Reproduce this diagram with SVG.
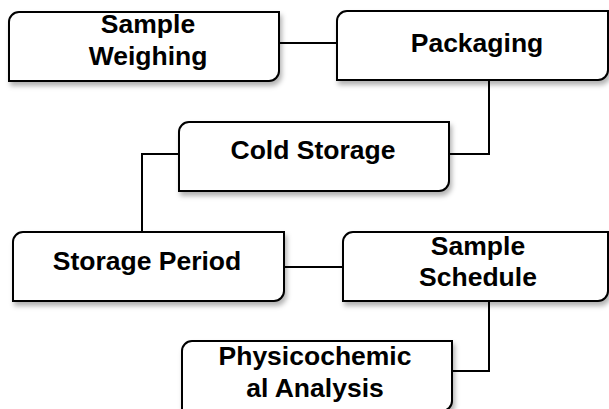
<svg xmlns="http://www.w3.org/2000/svg" width="609" height="409" viewBox="0 0 609 409">
<style>
.box{fill:#fff;stroke:#000;stroke-width:2;filter:url(#sh)}
.t{font-family:"Liberation Sans",Arial,sans-serif;font-weight:bold;font-size:26.5px;fill:#000;text-anchor:middle}
.c{fill:none;stroke:#000;stroke-width:2}
</style>
<defs>
<filter id="sh" x="-10%" y="-20%" width="130%" height="150%">
<feDropShadow dx="2" dy="4" stdDeviation="2.5" flood-color="#000" flood-opacity="0.3"/>
</filter>
</defs>
<g id="connectors">
<path class="c" d="M279,43 H337"/>
<path class="c" d="M489,80 V154 H449"/>
<path class="c" d="M179,154 H142 V232"/>
<path class="c" d="M284,267 H343"/>
<path class="c" d="M489,301 V371 H452"/>
</g>
<g id="n1">
<path class="box" d="M9,22 A10,10 0 0 1 19,12 H279 V71 A10,10 0 0 1 269,81 H9 Z"/>
<text class="t" x="148" y="33">Sample</text>
<text class="t" x="148" y="65">Weighing</text>
</g>
<g id="n2">
<path class="box" d="M337,21 A10,10 0 0 1 347,11 H608 V70 A10,10 0 0 1 598,80 H337 Z"/>
<text class="t" x="477" y="52">Packaging</text>
</g>
<g id="n3">
<path class="box" d="M179,132 A10,10 0 0 1 189,122 H449 V181 A10,10 0 0 1 439,191 H179 Z"/>
<text class="t" x="313" y="159">Cold Storage</text>
</g>
<g id="n4">
<path class="box" d="M13,242 A10,10 0 0 1 23,232 H284 V291 A10,10 0 0 1 274,301 H13 Z"/>
<text class="t" x="147" y="270">Storage Period</text>
</g>
<g id="n5">
<path class="box" d="M343,242 A10,10 0 0 1 353,232 H608 V291 A10,10 0 0 1 598,301 H343 Z"/>
<text class="t" x="478" y="255">Sample</text>
<text class="t" x="478" y="286">Schedule</text>
</g>
<g id="n6">
<path class="box" d="M182,351 A10,10 0 0 1 192,341 H452 V401 A10,10 0 0 1 442,411 H182 Z"/>
<text class="t" x="315" y="365">Physicochemic</text>
<text class="t" x="315" y="397">al Analysis</text>
</g>
</svg>
